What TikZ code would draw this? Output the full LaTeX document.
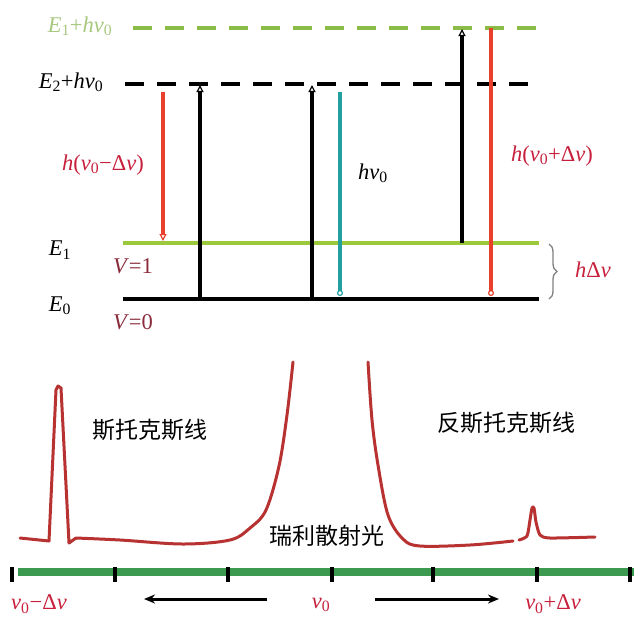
\documentclass[tikz,border=0pt]{standalone}
\usepackage{fontspec}
\setmainfont{Liberation Serif}
\newfontfamily\cjk{Noto Sans CJK SC}
\usetikzlibrary{arrows.meta,decorations.pathreplacing}
\definecolor{lred}{HTML}{E8402A}
\definecolor{tred}{HTML}{C8203C}
\definecolor{dred}{HTML}{8A2A3A}
\definecolor{lgreen}{HTML}{9CC83C}
\definecolor{dgreen}{HTML}{8CBC48}
\definecolor{pgreen}{HTML}{A8C880}
\definecolor{tealc}{HTML}{22A0A0}
\definecolor{axgreen}{HTML}{3C9A50}
\definecolor{spec}{HTML}{B83232}
\newcommand\iv[1]{\textit{#1}}
\newcommand\sbs[1]{\textsubscript{#1}}
\begin{document}
\begin{tikzpicture}[x=1pt,y=-1pt,
  lbl/.style={inner sep=0pt,font=\fontsize{22.5}{26}\selectfont},
  cjklbl/.style={inner sep=0pt,font=\cjk\fontsize{23}{26}\selectfont},
  level/.style={line width=4.5pt},
  dlevel/.style={line width=4.5pt,dash pattern=on 19pt off 13pt},
  uparrow/.style={line width=3.2pt,-{Triangle[open,length=7pt,width=7pt,line width=1.2pt]}},
  downarrow/.style={line width=3.2pt,-{Triangle[open,length=7pt,width=7pt,line width=1.2pt]}},
  circend/.style={line width=3.2pt,-{Circle[open,length=6pt,line width=1.2pt]}},
  spectrum/.style={spec,line width=3pt,line join=round,line cap=round},
  tick/.style={line width=3.5pt,black},
  axarrow/.style={line width=3pt,-{Stealth[length=11pt,width=9pt]}}
]
\useasboundingbox (0,0) rectangle (640,625);
\fill[white] (0,0) rectangle (640,625);

% level coordinates
\coordinate (g1) at (133,28);  \coordinate (g2) at (548,28);
\coordinate (k1) at (125,84);  \coordinate (k2) at (538,84);
\coordinate (e1a) at (123,243); \coordinate (e1b) at (539,243);
\coordinate (e0a) at (123,299); \coordinate (e0b) at (539,299);

\draw[dlevel,dgreen] (g1) -- (g2);
\draw[dlevel,black] (k1) -- (k2);
\draw[level,lgreen] (e1a) -- (e1b);
\draw[level,black] (e0a) -- (e0b);

% level labels
\node[lbl,text=pgreen] (lg) at (80,26) {\iv{E}\sbs{1}+\iv{hv}\sbs{0}};
\node[lbl] (lk) at (71,82) {\iv{E}\sbs{2}+\iv{hv}\sbs{0}};
\node[lbl] (le1) at (60,250) {\iv{E}\sbs{1}};
\node[lbl] (le0) at (60,306) {\iv{E}\sbs{0}};
\node[lbl,text=dred] (lv1) at (133,266) {\iv{V}=1};
\node[lbl,text=dred] (lv0) at (133,322) {\iv{V}=0};

% transitions
\coordinate (r1t) at (163,92);  \coordinate (r1b) at (163,241);
\draw[downarrow,lred] (r1t) -- (r1b);
\node[lbl,text=tred] (lr1) at (103,165) {\iv{h}(\iv{v}\sbs{0}−Δ\iv{v})};

\coordinate (b1b) at (200,299); \coordinate (b1t) at (200,85);
\draw[uparrow,black] (b1b) -- (b1t);
\coordinate (b2b) at (312,299); \coordinate (b2t) at (312,85);
\draw[uparrow,black] (b2b) -- (b2t);

\coordinate (t1t) at (340,92); \coordinate (t1b) at (340,296);
\draw[circend,tealc] (t1t) -- (t1b);
\node[lbl] (lt1) at (373,173) {\iv{hv}\sbs{0}};

\coordinate (b3b) at (462,243); \coordinate (b3t) at (462,29);
\draw[uparrow,black] (b3b) -- (b3t);

\coordinate (r2t) at (491,28); \coordinate (r2b) at (491,296);
\draw[circend,lred] (r2t) -- (r2b);
\node[lbl,text=tred] (lr2) at (552,156) {\iv{h}(\iv{v}\sbs{0}+Δ\iv{v})};

% brace
\coordinate (br1) at (549,244); \coordinate (br2) at (549,299);
\draw[gray,line width=1.3pt,decorate,decoration={brace,amplitude=8pt}] (br1) -- (br2);
\node[lbl,text=tred] (lbr) at (593,270) {\iv{h}Δ\iv{v}};

% spectrum
\draw[spectrum] (20,538) -- (49,541) -- (56,390) -- (58,386) -- (61,388) -- (69,543) -- (76,538);
\draw[spectrum] plot[smooth,tension=0.55] coordinates {(76,538) (120,540) (183,544) (230,540) (250,528) (266,510) (279,466) (287,415) (293,362)};
\draw[spectrum] plot[smooth,tension=0.55] coordinates {(368,362) (372,420) (378,465) (388,515) (403,539) (420,546) (470,545) (513,541)};
\draw[spectrum] plot[smooth,tension=0.4] coordinates {(519,540) (527,536) (530,520) (532,508) (534,508) (536,522) (540,535) (550,538) (595,537)};

\node[cjklbl] (ls) at (150,430) {斯托克斯线};
\node[cjklbl] (las) at (506,423) {反斯托克斯线};
\node[cjklbl] (lr) at (327,536) {瑞利散射光};

% axis
\coordinate (ax1) at (18,572); \coordinate (ax2) at (634,572);
\draw[axgreen,line width=8pt] (ax1) -- (ax2);
\foreach \x/\n in {12/ta,115/tb,228/tc,332/td,433/te,537/tf,630/tg}{
  \coordinate (\n1) at (\x,567); \coordinate (\n2) at (\x,582);
  \draw[tick] (\n1) -- (\n2);
}
\node[lbl,text=tred] (la1) at (39,604) {\iv{v}\sbs{0}−Δ\iv{v}};
\node[lbl,text=tred] (la2) at (321,605) {\iv{v}\sbs{0}};
\node[lbl,text=tred] (la3) at (553,604) {\iv{v}\sbs{0}+Δ\iv{v}};

\coordinate (aL1) at (267,599); \coordinate (aL2) at (144,599);
\draw[axarrow] (aL1) -- (aL2);
\coordinate (aR1) at (375,599); \coordinate (aR2) at (499,599);
\draw[axarrow] (aR1) -- (aR2);
\end{tikzpicture}
\end{document}
